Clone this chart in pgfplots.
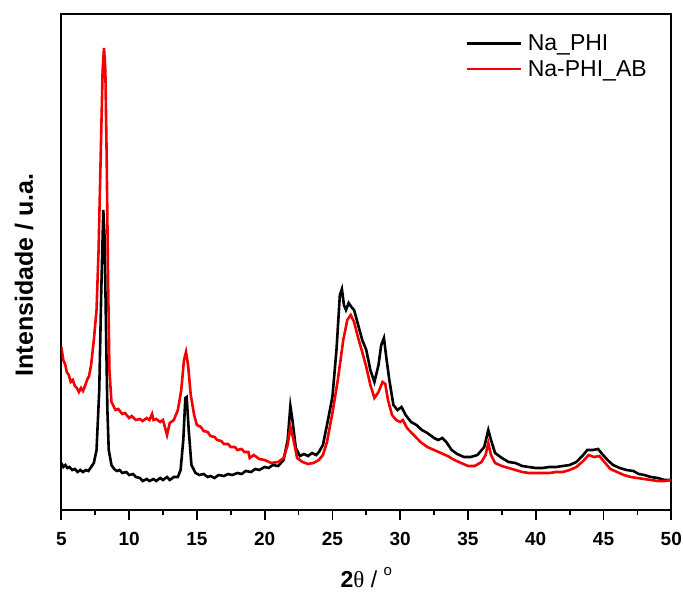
\documentclass[border=0pt]{standalone}
\usepackage{pgfplots}
\pgfplotsset{compat=1.18}
\usepackage{fontspec}
\setmainfont{Liberation Sans}
\newfontfamily\serif{Liberation Serif}
\definecolor{myred}{RGB}{245,0,0}
\begin{document}
\begin{tikzpicture}
\begin{axis}[
  scale only axis,
  width=610pt, height=496pt,
  xmin=5, xmax=50, ymin=0, ymax=496,
  xtick={5,10,...,50},
  minor x tick num=1,
  ytick=\empty,
  xtick pos=bottom,
  tick align=outside,
  major tick length=10pt,
  minor tick length=5pt,
  every tick/.style={line width=1.8pt, black},
  axis line style={line width=1.8pt},
  /pgf/number format/assume math mode=true,
  xticklabel style={font=\fontsize{19}{19}\selectfont\bfseries, yshift=-9pt},
  xlabel={{\bfseries 2}{\serif θ} / \raisebox{0.55em}{\fontsize{15}{15}\selectfont o}},
  xlabel style={at={(axis description cs:0.5,-0.157)}, anchor=base, font=\fontsize{23}{23}\selectfont},
  ylabel={Intensidade / u.a.},
  ylabel style={at={(axis description cs:-0.061,0.474)}, anchor=center, font=\fontsize{25}{25}\selectfont\bfseries},
  legend style={draw=none, fill=none, at={(axis description cs:0.662,0.962)}, anchor=north west,
    font=\fontsize{23}{23}\selectfont, row sep=4pt, inner sep=0pt},
  legend cell align=left,
  legend image code/.code={\draw[#1,line width=2.5pt] (0pt,0pt) -- (54pt,0pt);},
]
\addplot[black, line width=2.6pt] coordinates {
(5.0,47)(5.15,43)(5.3,45)(5.45,42)(5.6,43)(5.8,40)(6.0,41)(6.2,38)(6.4,40)(6.6,38)(6.8,40)(7.0,39)(7.2,43)(7.4,47)(7.6,60)(7.8,120)(7.95,220)(8.1,300)(8.2,270)(8.3,180)(8.4,100)(8.5,60)(8.7,45)(8.9,41)(9.1,39)(9.3,40)(9.5,37)(9.8,38)(10.0,35)(10.3,36)(10.5,33)(10.8,32)(11.0,29)(11.3,31)(11.5,29)(11.8,31)(12.0,29)(12.3,32)(12.5,30)(12.8,33)(13.0,30)(13.3,33)(13.6,33)(13.8,40)(14.0,70)(14.15,112)(14.25,113)(14.4,80)(14.6,45)(14.9,37)(15.2,35)(15.5,36)(15.8,33)(16.0,34)(16.3,32)(16.6,35)(17.0,34)(17.3,36)(17.6,35)(18.0,37)(18.3,36)(18.6,39)(19.0,38)(19.3,41)(19.6,40)(20.0,43)(20.3,42)(20.6,45)(21.0,44)(21.4,50)(21.7,70)(21.9,104)(22.05,90)(22.3,62)(22.6,54)(22.9,56)(23.2,54)(23.5,57)(23.8,55)(24.0,58)(24.3,65)(24.6,85)(25.0,113)(25.3,160)(25.55,215)(25.7,221)(25.85,205)(26.0,200)(26.2,207)(26.4,203)(26.6,200)(26.9,185)(27.2,170)(27.5,160)(27.8,140)(28.1,128)(28.4,145)(28.6,165)(28.8,172)(29.0,150)(29.2,130)(29.5,105)(29.8,100)(30.1,103)(30.4,95)(30.8,88)(31.2,85)(31.6,80)(32.0,77)(32.5,72)(32.8,70)(33.1,72)(33.4,68)(33.8,60)(34.2,56)(34.7,53)(35.2,53)(35.7,55)(36.2,63)(36.5,80)(36.7,70)(37.0,57)(37.5,52)(38.0,48)(38.5,47)(39.0,44)(39.5,43)(40.0,42)(40.5,42)(41.0,43)(41.5,43)(42.0,44)(42.5,45)(43.0,48)(43.5,55)(43.8,60)(44.2,60)(44.6,61)(44.9,56)(45.3,50)(45.7,45)(46.2,42)(46.7,40)(47.2,39)(47.6,36)(48.0,35)(48.5,33)(49.0,32)(49.5,30)(50.0,30)
};
\addlegendentry{\hspace{4pt}Na\_PHI}
\addplot[myred, line width=2.6pt] coordinates {
(5.0,163)(5.15,150)(5.3,145)(5.4,138)(5.55,135)(5.7,128)(5.85,130)(6.0,124)(6.15,122)(6.3,118)(6.45,122)(6.6,119)(6.75,124)(6.9,130)(7.05,134)(7.2,145)(7.4,170)(7.6,200)(7.75,260)(7.9,350)(8.05,440)(8.15,462)(8.25,440)(8.35,350)(8.45,230)(8.55,140)(8.7,108)(8.85,104)(9.0,100)(9.2,101)(9.5,96)(9.7,97)(10.0,92)(10.2,94)(10.5,90)(10.8,91)(11.0,89)(11.3,92)(11.5,90)(11.7,96)(11.8,90)(12.0,91)(12.3,88)(12.5,90)(12.8,75)(13.0,87)(13.3,90)(13.6,100)(13.85,120)(14.05,150)(14.2,158)(14.35,145)(14.55,115)(14.8,95)(15.0,85)(15.3,83)(15.5,79)(15.8,78)(16.0,74)(16.3,73)(16.5,70)(16.8,69)(17.0,66)(17.3,66)(17.5,63)(17.8,63)(18.0,60)(18.3,61)(18.5,58)(18.8,58)(18.9,52)(19.2,55)(19.6,51)(20.0,50)(20.5,47)(21.0,48)(21.4,52)(21.7,65)(21.9,83)(22.1,72)(22.4,52)(22.8,48)(23.2,46)(23.6,47)(24.0,50)(24.3,55)(24.6,68)(25.0,97)(25.4,130)(25.8,170)(26.1,190)(26.35,195)(26.6,188)(26.9,172)(27.2,158)(27.5,143)(27.8,125)(28.1,112)(28.4,118)(28.7,128)(28.9,126)(29.1,110)(29.4,95)(29.7,90)(30.0,88)(30.2,90)(30.5,82)(31.0,75)(31.5,68)(32.0,63)(32.5,60)(33.0,57)(33.5,54)(34.0,50)(34.5,47)(35.0,44)(35.5,44)(36.0,48)(36.3,55)(36.5,67)(36.7,55)(37.0,47)(37.5,44)(38.0,42)(38.5,40)(39.0,38)(39.5,37)(40.0,37)(40.5,37)(41.0,37)(41.5,38)(42.0,38)(42.5,40)(43.0,43)(43.5,49)(43.9,55)(44.3,53)(44.7,54)(45.0,49)(45.5,41)(46.0,38)(46.5,35)(47.0,33)(47.5,32)(48.0,31)(48.5,30)(49.0,29)(49.5,29)(50.0,30)
};
\addlegendentry{\hspace{4pt}Na-PHI\_AB}
\end{axis}
\pgfresetboundingbox
\path[use as bounding box] (-61.3pt,-82pt) rectangle (621.7pt,510pt);
\end{tikzpicture}
\end{document}
